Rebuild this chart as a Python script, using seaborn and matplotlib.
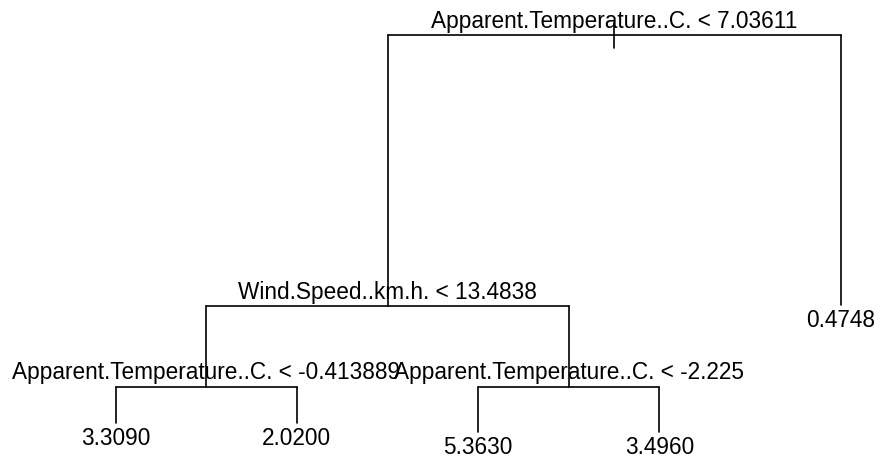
import matplotlib
matplotlib.use("Agg")
import matplotlib.pyplot as plt
import seaborn as sns
import pandas as pd

sns.set_style("white")
plt.rcParams['font.family'] = ['Liberation Sans', 'DejaVu Sans']
plt.rcParams['text.color'] = 'black'

# Tree nodes (R tree plot): id, parent, leaf-order x, deviance (y), label
node_ids = [1, 2, 3, 4, 5, 8, 9, 10, 11]
node_parent = [0, 1, 1, 2, 2, 4, 4, 5, 5]
node_dev = [4250, 1540, 1550, 733, 733, 370, 370, 280, 280]
node_label = ["Apparent.Temperature..C. < 7.03611",
              "Wind.Speed..km.h. < 13.4838",
              "0.4748",
              "Apparent.Temperature..C. < -0.413889",
              "Apparent.Temperature..C. < -2.225",
              "3.3090", "2.0200", "5.3630", "3.4960"]
leaf_order = [8, 9, 10, 11, 3]
root_stub = 125

# compute x positions: leaves 1..n, internal = mean of children
xpos = {}
for i, nid in enumerate(leaf_order):
    xpos[nid] = i + 1
children = {}
for nid, p in zip(node_ids, node_parent):
    children.setdefault(p, []).append(nid)
def getx(n):
    if n not in xpos:
        xpos[n] = sum(getx(c) for c in children[n]) / len(children[n])
    return xpos[n]
for n in node_ids:
    getx(n)
dev = dict(zip(node_ids, node_dev))
lab = dict(zip(node_ids, node_label))

rows = []
seg = 0
for n in node_ids:
    if n in children:
        kids = children[n]
        xs = [xpos[k] for k in kids]
        rows += [(seg, min(xs), dev[n]), (seg, max(xs), dev[n])]
        seg += 1
        for k in kids:
            rows += [(seg, xpos[k], dev[n]), (seg, xpos[k], dev[k])]
            seg += 1
rows += [(seg, xpos[1], dev[1] + root_stub), (seg, xpos[1], dev[1] - root_stub)]
df = pd.DataFrame(rows, columns=["seg", "x", "y"])

fig = plt.figure(figsize=(8.9, 4.59), dpi=100)
ax = fig.add_axes([0, 0, 1, 1])
sns.lineplot(data=df, x="x", y="y", units="seg", estimator=None, sort=False,
             color="black", lw=1.2, ax=ax)
ax.set_xlim(0.362, 5.272)
ax.set_ylim(10, 4600)
ax.axis("off")

for n in node_ids:
    if n in children:
        ax.annotate(lab[n], (xpos[n], dev[n]), xytext=(0, 10), textcoords="offset points",
                    ha="center", va="center", fontsize=16.3, color="black")
    else:
        ax.annotate(lab[n], (xpos[n], dev[n]), xytext=(0, -11.5), textcoords="offset points",
                    ha="center", va="center", fontsize=16.3, color="black")

fig.savefig("out.png", dpi=100, facecolor="white")
